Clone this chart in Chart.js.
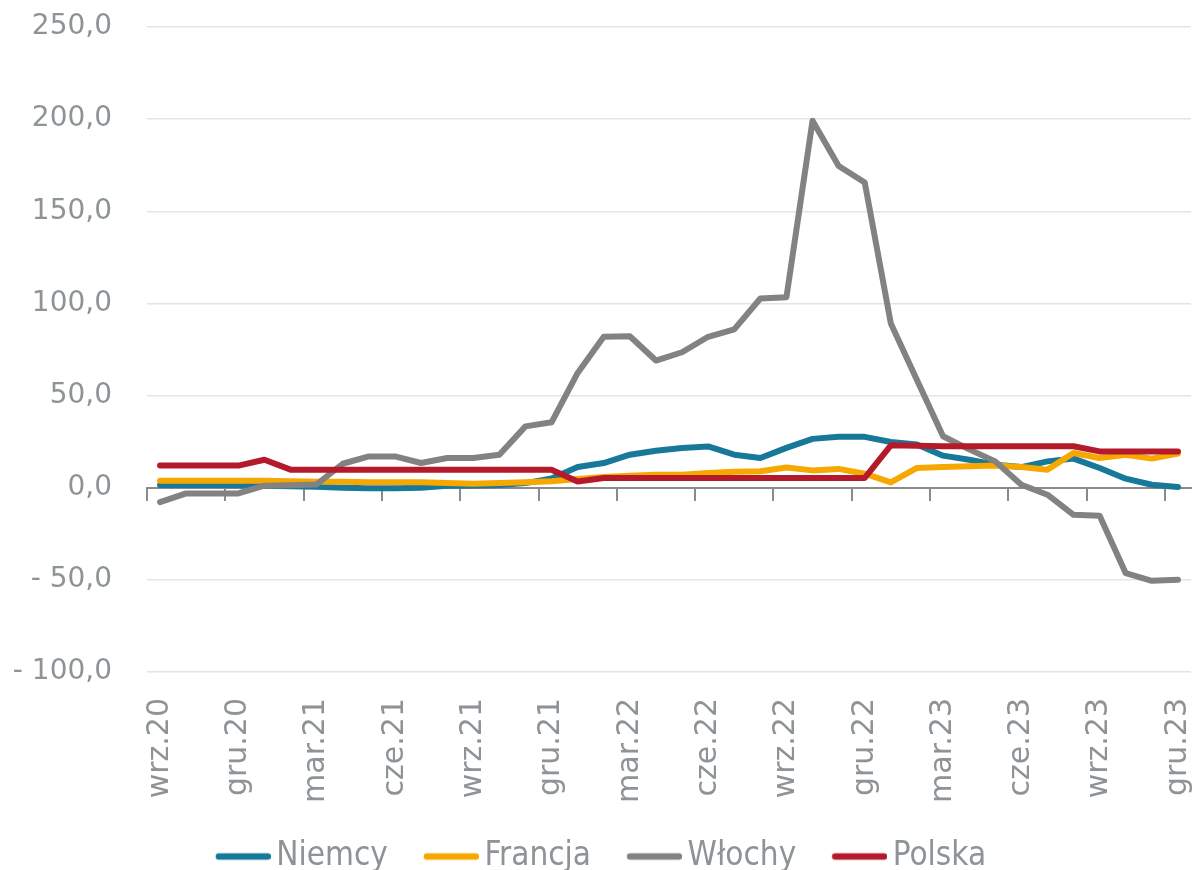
<!DOCTYPE html>
<html lang="pl">
<head>
<meta charset="utf-8">
<title>Niemcy, Francja, Włochy, Polska</title>
<script src="https://cdn.jsdelivr.net/npm/chart.js@4.4.1/dist/chart.umd.min.js"></script>
<style>
    html, body { margin: 0; padding: 0; background: #fff; overflow: hidden; }
    #wrap { width: 1199px; height: 870px; }
</style>
</head>
<body>
<div id="wrap"><canvas id="myLineChart"></canvas></div>
<script>
// miesiące wrz.20 - gru.23
const months = [
    "wrz.20", "paź.20", "lis.20", "gru.20",
    "sty.21", "lut.21", "mar.21", "kwi.21", "maj.21", "cze.21", "lip.21", "sie.21", "wrz.21", "paź.21", "lis.21", "gru.21",
    "sty.22", "lut.22", "mar.22", "kwi.22", "maj.22", "cze.22", "lip.22", "sie.22", "wrz.22", "paź.22", "lis.22", "gru.22",
    "sty.23", "lut.23", "mar.23", "kwi.23", "maj.23", "cze.23", "lip.23", "sie.23", "wrz.23", "paź.23", "lis.23", "gru.23"
];

const niemcy = [1.5, 1.5, 1.5, 1.3, 1.0, 0.8, 0.5, 0.0, -0.3, -0.3, 0.0, 1.0, 1.2, 1.5, 2.5, 5.0,
    11.2, 13.4, 17.9, 20.1, 21.6, 22.4, 17.9, 16.1, 21.6, 26.5, 27.6, 27.6,
    24.8, 23.4, 17.4, 15.2, 12.5, 11.2, 14.3, 15.8, 10.7, 4.9, 1.6, 0.4];

const francja = [3.8, 3.8, 3.8, 3.8, 3.8, 3.5, 3.3, 3.3, 3.0, 3.0, 3.0, 2.5, 2.2, 2.5, 3.0, 3.5,
    4.7, 5.8, 6.5, 7.1, 7.1, 8.0, 8.7, 8.9, 11.0, 9.4, 10.2, 7.6,
    2.9, 10.7, 11.2, 11.6, 12.0, 11.2, 9.8, 18.8, 16.1, 17.9, 15.8, 18.5];

const wlochy = [-7.8, -3.1, -3.1, -3.1, 1.1, 1.4, 1.8, 13.0, 17.0, 17.0, 13.4, 16.1, 16.1, 17.9, 33.3, 35.5,
    62.3, 81.9, 82.2, 69.0, 73.5, 81.9, 85.9, 102.7, 103.4, 199.1, 174.6, 165.6,
    89.1, 58.5, 27.9, 20.8, 14.3, 1.6, -3.8, -14.7, -15.2, -46.4, -50.5, -50.0];

const polska = [12.0, 12.0, 12.0, 12.0, 15.2, 9.8, 9.8, 9.8, 9.8, 9.8, 9.8, 9.8, 9.8, 9.8, 9.8, 9.8,
    3.4, 5.3, 5.3, 5.3, 5.3, 5.3, 5.3, 5.3, 5.3, 5.3, 5.3, 5.3,
    23.0, 22.8, 22.5, 22.5, 22.5, 22.5, 22.5, 22.5, 19.7, 19.7, 19.7, 19.7];

const yMin = -100, yMax = 250, yStep = 50;

const textColor = '#8d9396';

// format osi Y: "250,0", "- 50,0"
function formatY(v) {
    const s = Math.abs(v).toFixed(1).replace('.', ',');
    return v < 0 ? '- ' + s : s;
}

// znacznik legendy: gruba kreska dosunięta do tekstu
function legendMarker(color) {
    const c = document.createElement('canvas');
    c.width = 77;
    c.height = 10;
    const g = c.getContext('2d');
    g.strokeStyle = color;
    g.lineWidth = 6.5;
    g.lineCap = 'round';
    g.beginPath();
    g.moveTo(25, 5);
    g.lineTo(74, 5);
    g.stroke();
    return c;
}

function series(label, data, color, order) {
    return {
        label: label,
        data: data,
        borderColor: color,
        backgroundColor: color,
        borderWidth: 6,
        pointRadius: 0,
        pointStyle: legendMarker(color),
        tension: 0,
        borderJoinStyle: 'round',
        borderCapStyle: 'round',
        order: order
    };
}

// bez dodatkowych marginesów od etykiet - obszar wykresu ustawiany ręcznie
function noPadding(scale) {
    scale.paddingLeft = 0;
    scale.paddingRight = 0;
    scale.paddingTop = 0;
    scale.paddingBottom = 0;
}

const config = {
    type: 'line',
    data: {
        labels: months,
        datasets: [
            series('Niemcy', niemcy, '#17789a', 3),
            series('Francja', francja, '#f7a800', 2),
            series('Włochy', wlochy, '#828282', 1),
            series('Polska', polska, '#b51a2b', 0)
        ]
    },
    options: {
        responsive: true,
        maintainAspectRatio: false,
        animation: false,
        layout: { padding: { left: 0, right: 8, top: 27, bottom: -13 } },
        plugins: {
            tooltip: { enabled: false },
            legend: {
                position: 'bottom',
                labels: {
                    usePointStyle: true,
                    pointStyleWidth: 55,
                    padding: 25,
                    color: textColor,
                    font: { family: "'DejaVu Sans Condensed', 'Liberation Sans Narrow', 'DejaVu Sans'", size: 33 },
                    sort: (a, b) => a.datasetIndex - b.datasetIndex
                }
            }
        },
        scales: {
            // linia zera z kreskami co kwartał
            x: {
                type: 'category',
                position: { y: 0 },
                offset: true,
                grid: {
                    offset: true,
                    drawOnChartArea: false,
                    drawTicks: true,
                    tickLength: 12,
                    lineWidth: 2,
                    color: ctx => (ctx.index % 3 === 0 ? '#8a8a8a' : 'rgba(0,0,0,0)')
                },
                border: { display: true, color: '#8a8a8a', width: 2 },
                ticks: { display: false, autoSkip: false },
                afterFit: noPadding
            },
            // podpisy miesięcy na dole
            x2: {
                type: 'category',
                position: 'bottom',
                offset: true,
                grid: { display: false, drawTicks: false },
                border: { display: false },
                ticks: {
                    autoSkip: false,
                    minRotation: 90,
                    maxRotation: 90,
                    padding: 26,
                    color: textColor,
                    font: { family: "'DejaVu Sans'", size: 30 },
                    callback: function (value, index) {
                        return index % 3 === 0 ? this.getLabelForValue(value) : '';
                    }
                },
                afterFit: scale => {
                    noPadding(scale);
                    scale.height = 143;
                }
            },
            y: {
                min: yMin,
                max: yMax,
                border: { display: false },
                grid: { color: '#e4e4e4', lineWidth: 1.5, drawTicks: false },
                ticks: {
                    stepSize: yStep,
                    padding: 35,
                    color: textColor,
                    font: { family: "'DejaVu Sans'", size: 28 },
                    callback: v => formatY(v)
                },
                afterFit: scale => {
                    noPadding(scale);
                    scale.width = 147;
                }
            }
        }
    }
};

new Chart(document.getElementById('myLineChart'), config);
</script>
</body>
</html>
